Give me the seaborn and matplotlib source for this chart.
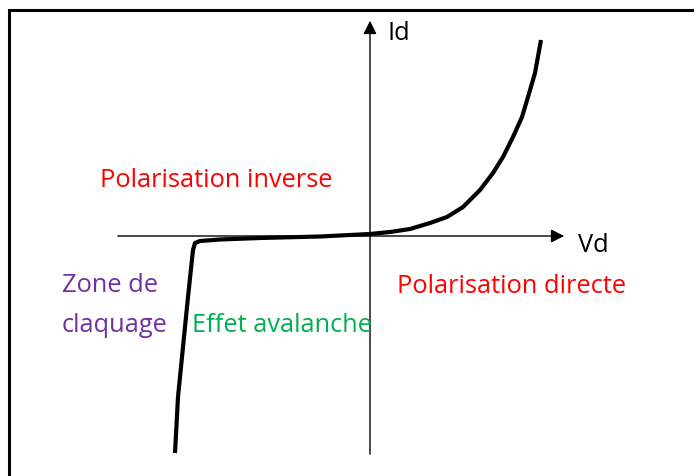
import matplotlib
matplotlib.use('Agg')
import matplotlib.pyplot as plt
import matplotlib.patches as patches
import pandas as pd
import seaborn as sns

vd = [-195, -192, -187, -182, -177, -175, -170, -150, -110, -50, 0,
      20, 40, 60, 77, 93, 110, 123, 133, 143, 152, 158, 165, 171]
id_ = [-217, -161, -111, -61, -14, -7, -5, -3.5, -2, -0.5, 2,
       4, 7, 13, 19, 29, 46, 63, 79, 99, 119, 139, 163, 196]

# étiquettes
labels = ['Polarisation inverse', 'Polarisation directe', 'Zone de', 'claquage', 'Effet avalanche']
label_colors = ['#FF0000', '#FF0000', '#7030A0', '#7030A0', '#00B050']
label_x = [-270, 27, -308, -308, -178]
label_y = [49, -57, -56, -96, -96]

df = pd.DataFrame({'Vd': vd, 'Id': id_})

sns.set_style('white')
plt.rcParams['font.family'] = ['Open Sans', 'DejaVu Sans']

fig = plt.figure(figsize=(6.94, 4.76), dpi=100)
ax = fig.add_axes([0, 0, 1, 1])
ax.set_xlim(-370, 324)
ax.set_ylim(-240, 236)

# cadre
ax.add_patch(patches.Rectangle((-361, -300), 800, 526, fill=False, lw=2.2, edgecolor='black'))

# axes avec flèches
ax.annotate('', xy=(197, 0), xytext=(-255, 0),
            arrowprops=dict(arrowstyle='-|>', mutation_scale=20, lw=1, color='black'))
ax.annotate('', xy=(0, 218), xytext=(0, -221),
            arrowprops=dict(arrowstyle='-|>', mutation_scale=20, lw=1, color='black'))

sns.lineplot(data=df, x='Vd', y='Id', sort=False, color='black', lw=3, ax=ax,
             solid_joinstyle='round', solid_capstyle='butt')

for t, c, x, y in zip(labels, label_colors, label_x, label_y):
    ax.text(x, y, t, color=c, fontsize=18.3, va='baseline', ha='left')
ax.text(208, -16, 'Vd', color='black', fontsize=18.3, va='baseline')
ax.text(18, 196, 'Id', color='black', fontsize=18.3, va='baseline')

ax.axis('off')
fig.savefig('out.png', dpi=100)
plt.close()
